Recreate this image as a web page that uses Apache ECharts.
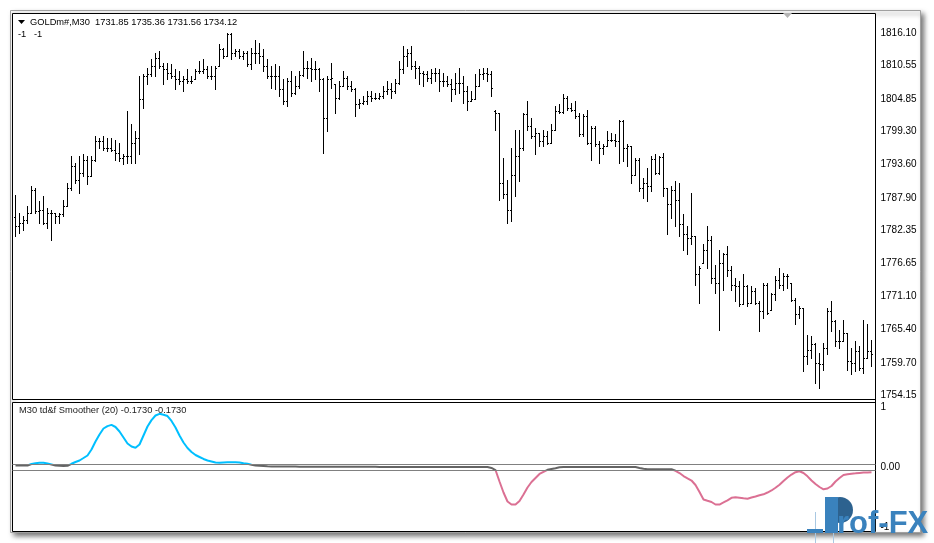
<!DOCTYPE html>
<html>
<head>
<meta charset="utf-8">
<script src="https://cdn.jsdelivr.net/npm/echarts@6/dist/echarts.min.js"></script>
<style>
html,body{margin:0;padding:0;background:#fff;}
#chart{width:934px;height:543px;}
</style>
</head>
<body>
<div id="chart"></div>
<script>
// ---- price bars (GOLDm#, M30) ----
const opens = [1784.50,1782.98,1783.55,1784.12,1785.26,1789.25,1785.55,1785.83,1783.55,1785.26,1785.26,1784.69,1784.98,1786.40,1789.54,1793.24,1790.96,1792.10,1794.38,1791.53,1794.38,1797.52,1797.52,1796.38,1796.38,1796.09,1795.52,1794.67,1794.95,1794.95,1797.23,1798.09,1804.64,1808.63,1808.92,1810.34,1811.77,1810.34,1809.77,1809.20,1808.63,1808.06,1807.78,1808.06,1807.78,1808.06,1809.49,1809.49,1809.77,1808.63,1808.63,1810.34,1813.19,1812.05,1815.76,1812.62,1812.91,1812.05,1812.62,1810.63,1812.62,1812.62,1812.05,1810.34,1808.63,1808.63,1808.63,1806.35,1804.36,1807.78,1805.78,1806.92,1808.90,1810.06,1810.06,1809.77,1809.77,1808.06,1801.51,1808.06,1807.21,1804.93,1806.92,1808.35,1806.92,1806.35,1803.79,1804.07,1804.36,1805.21,1804.93,1804.93,1805.21,1806.07,1806.35,1806.07,1807.49,1809.77,1812.05,1812.62,1810.34,1810.06,1809.20,1808.92,1808.35,1809.20,1809.20,1807.78,1807.78,1807.21,1806.35,1807.49,1807.49,1806.07,1804.36,1804.64,1806.92,1808.92,1809.20,1808.92,1802.65,1802.36,1790.39,1788.40,1785.83,1791.81,1794.95,1796.38,1802.08,1800.08,1798.37,1798.94,1797.52,1798.37,1797.23,1799.51,1802.65,1802.47,1804.93,1803.22,1802.93,1801.79,1798.66,1801.79,1797.23,1799.79,1796.95,1796.38,1796.66,1797.80,1797.80,1797.52,1800.94,1796.38,1796.66,1791.81,1794.38,1789.54,1790.39,1789.82,1794.49,1791.99,1794.84,1789.54,1786.69,1789.25,1787.54,1783.27,1781.56,1780.99,1781.27,1774.72,1776.71,1778.99,1780.70,1774.15,1773.29,1776.71,1778.14,1775.57,1773.00,1772.72,1769.59,1772.72,1769.87,1771.87,1769.87,1768.45,1773.00,1768.73,1771.30,1773.86,1773.00,1774.43,1773.29,1770.44,1767.88,1769.02,1760.75,1761.89,1762.75,1759.61,1759.33,1762.17,1768.45,1766.74,1763.32,1763.32,1764.74,1759.90,1759.61,1761.61,1758.76,1760.47,1761.61];
const highs = [1788.39,1785.26,1784.69,1786.40,1789.82,1789.54,1787.26,1788.11,1786.12,1785.83,1785.26,1785.26,1787.54,1790.39,1794.95,1793.81,1794.95,1795.24,1794.95,1794.95,1798.37,1798.09,1798.37,1798.09,1798.09,1797.80,1797.23,1795.24,1802.65,1800.37,1799.23,1808.63,1808.92,1810.06,1811.48,1812.62,1812.91,1810.91,1810.91,1810.63,1809.77,1809.49,1808.63,1809.77,1808.63,1809.77,1811.20,1811.48,1810.34,1810.34,1810.34,1814.05,1813.48,1816.04,1816.04,1813.19,1813.19,1812.91,1812.91,1813.48,1814.79,1814.33,1813.19,1811.48,1810.34,1810.63,1810.34,1808.06,1808.35,1809.49,1808.63,1809.49,1812.91,1811.20,1811.77,1811.20,1810.06,1808.35,1808.63,1810.91,1807.21,1807.78,1809.49,1808.63,1807.78,1806.64,1804.64,1805.21,1806.07,1806.07,1805.78,1805.78,1806.92,1807.78,1807.49,1808.06,1811.20,1813.76,1813.19,1813.87,1811.20,1810.34,1809.49,1809.49,1809.77,1810.06,1809.77,1809.20,1808.63,1808.06,1809.20,1810.06,1808.63,1806.92,1806.07,1808.92,1809.77,1810.06,1810.06,1809.49,1802.93,1802.36,1794.66,1790.96,1796.38,1799.51,1799.51,1802.36,1804.35,1801.51,1799.79,1798.94,1799.51,1799.23,1800.37,1803.50,1803.79,1805.50,1805.21,1804.07,1804.35,1802.36,1802.08,1802.93,1800.08,1800.08,1797.52,1796.95,1799.23,1798.94,1798.66,1801.22,1801.22,1796.95,1796.66,1794.66,1794.66,1791.24,1792.96,1794.95,1795.24,1794.95,1795.41,1789.54,1789.82,1790.68,1790.39,1784.98,1782.98,1788.68,1781.38,1776.14,1779.85,1782.98,1781.27,1776.42,1778.99,1778.42,1779.56,1776.14,1774.15,1773.58,1774.72,1773.00,1772.72,1772.43,1770.16,1773.29,1773.29,1771.58,1774.43,1775.86,1775.00,1774.72,1773.29,1770.73,1769.30,1769.02,1764.45,1764.17,1763.03,1761.32,1763.03,1769.02,1770.16,1767.02,1765.31,1767.02,1764.74,1762.17,1763.32,1762.46,1767.02,1766.17,1763.60];
const lows = [1781.27,1781.84,1782.41,1783.55,1785.26,1785.26,1783.55,1783.27,1782.70,1780.70,1783.55,1783.55,1784.69,1786.40,1789.25,1790.39,1788.68,1791.53,1790.11,1791.53,1794.10,1796.38,1796.09,1795.81,1795.81,1794.38,1794.10,1793.53,1793.81,1793.81,1793.81,1795.24,1803.22,1807.21,1808.63,1808.63,1810.06,1807.21,1808.06,1808.35,1806.35,1807.21,1806.07,1807.49,1807.49,1808.06,1809.20,1809.20,1808.35,1808.06,1806.35,1810.34,1811.77,1812.05,1811.48,1812.05,1811.77,1811.48,1810.34,1809.77,1810.91,1810.91,1809.49,1808.35,1806.64,1806.35,1805.21,1803.79,1803.50,1805.21,1805.50,1806.64,1808.63,1808.35,1807.78,1808.06,1806.07,1795.52,1799.23,1806.64,1802.36,1804.64,1806.92,1806.35,1806.07,1801.79,1803.22,1803.79,1803.79,1804.36,1804.64,1804.64,1804.93,1805.50,1804.93,1805.78,1807.21,1809.20,1810.34,1809.77,1808.35,1807.21,1806.92,1807.78,1807.49,1807.78,1806.07,1806.92,1806.92,1804.36,1805.50,1805.78,1804.07,1802.93,1804.36,1804.64,1806.92,1808.06,1807.78,1805.21,1799.51,1787.54,1787.83,1783.55,1783.84,1788.11,1790.67,1796.09,1799.51,1798.09,1795.24,1796.66,1796.66,1796.95,1797.23,1799.51,1802.36,1802.36,1802.93,1802.65,1801.51,1798.37,1798.37,1796.95,1794.38,1796.66,1793.81,1795.24,1796.66,1797.52,1796.66,1793.81,1794.10,1793.24,1790.39,1791.81,1788.97,1787.83,1787.26,1788.97,1791.82,1791.82,1788.11,1781.56,1784.40,1782.98,1781.27,1778.99,1778.14,1779.85,1773.00,1769.87,1776.71,1775.86,1773.29,1771.58,1765.31,1772.15,1774.43,1772.15,1770.16,1769.30,1769.59,1769.30,1769.87,1769.59,1765.02,1767.31,1767.88,1768.73,1770.44,1772.43,1772.15,1772.43,1770.16,1766.17,1767.31,1758.19,1759.33,1760.47,1756.19,1755.34,1758.47,1761.04,1765.02,1762.46,1762.17,1763.32,1758.47,1757.62,1758.19,1758.47,1757.90,1760.47,1759.04];
const closes = [1782.98,1783.55,1784.12,1785.26,1789.25,1785.55,1785.83,1783.55,1785.26,1785.26,1784.69,1784.98,1786.40,1789.54,1793.24,1790.96,1792.10,1794.38,1791.53,1794.38,1797.52,1797.52,1796.38,1796.38,1796.09,1795.52,1794.67,1794.95,1794.95,1797.23,1798.09,1804.64,1808.63,1808.92,1810.34,1811.77,1810.34,1809.77,1809.20,1808.63,1808.06,1807.78,1808.06,1807.78,1807.78,1809.49,1809.49,1809.77,1808.63,1808.63,1810.06,1813.19,1812.05,1815.76,1812.62,1812.91,1812.05,1812.62,1810.63,1812.62,1812.62,1812.05,1810.34,1808.63,1808.63,1808.63,1806.35,1804.36,1807.78,1805.78,1806.92,1808.90,1810.06,1810.06,1809.77,1809.77,1808.06,1801.51,1808.06,1808.35,1804.93,1806.92,1808.35,1806.92,1806.35,1803.79,1804.07,1804.36,1805.21,1804.93,1804.93,1805.21,1806.07,1806.35,1806.07,1807.49,1809.77,1812.05,1812.62,1810.34,1810.06,1809.20,1808.92,1808.35,1809.20,1809.20,1807.78,1807.78,1807.21,1806.35,1807.49,1807.49,1806.07,1804.36,1804.64,1806.92,1808.92,1809.20,1808.92,1806.64,1802.36,1790.39,1788.40,1785.83,1791.81,1794.95,1796.38,1802.08,1800.08,1798.37,1798.94,1797.52,1798.37,1797.23,1799.51,1802.65,1802.47,1804.93,1803.22,1802.93,1801.79,1798.66,1801.79,1797.23,1799.79,1796.95,1796.38,1796.66,1797.80,1797.80,1797.52,1800.94,1796.38,1796.66,1791.81,1794.38,1789.54,1790.39,1789.82,1794.49,1791.99,1794.84,1789.54,1786.69,1789.25,1787.54,1783.27,1781.56,1780.99,1781.27,1774.72,1775.86,1778.99,1780.70,1774.15,1773.29,1776.71,1778.14,1775.57,1773.00,1772.72,1769.59,1772.72,1769.87,1771.87,1769.87,1768.45,1773.00,1768.16,1771.30,1773.86,1773.00,1774.43,1774.43,1770.44,1767.88,1769.02,1760.75,1761.89,1762.75,1759.61,1759.33,1762.17,1768.45,1766.74,1763.32,1763.32,1764.74,1759.90,1759.61,1761.61,1758.76,1760.47,1761.61,1761.04];

// ---- td&f Smoother (20) indicator ----
const smoother = [0.033,0.033,0.033,0.033,0.058,0.072,0.078,0.078,0.067,0.050,0.033,0.028,0.025,0.028,0.062,0.092,0.117,0.158,0.200,0.300,0.433,0.550,0.650,0.690,0.710,0.675,0.600,0.500,0.400,0.350,0.330,0.383,0.533,0.683,0.790,0.867,0.895,0.880,0.858,0.775,0.667,0.533,0.417,0.325,0.258,0.208,0.175,0.142,0.117,0.100,0.083,0.078,0.083,0.087,0.088,0.088,0.083,0.070,0.062,0.045,0.033,0.028,0.025,0.020,0.017,0.017,0.017,0.017,0.017,0.017,0.017,0.013,0.013,0.013,0.013,0.013,0.013,0.013,0.013,0.013,0.013,0.013,0.013,0.013,0.013,0.013,0.013,0.013,0.013,0.013,0.013,0.008,0.008,0.008,0.008,0.008,0.008,0.008,0.008,0.008,0.008,0.008,0.008,0.008,0.008,0.008,0.008,0.008,0.008,0.008,0.008,0.008,0.008,0.008,0.008,0.008,0.008,0.008,0.008,-0.008,-0.042,-0.233,-0.417,-0.567,-0.617,-0.617,-0.558,-0.450,-0.333,-0.242,-0.175,-0.108,-0.072,-0.038,-0.025,-0.012,0.003,0.008,0.008,0.008,0.008,0.008,0.008,0.008,0.008,0.008,0.008,0.008,0.008,0.008,0.008,0.008,0.008,0.008,0.008,0.008,-0.008,-0.022,-0.030,-0.030,-0.030,-0.030,-0.030,-0.030,-0.030,-0.055,-0.092,-0.142,-0.180,-0.217,-0.292,-0.408,-0.533,-0.555,-0.575,-0.617,-0.617,-0.583,-0.547,-0.505,-0.497,-0.505,-0.513,-0.520,-0.500,-0.483,-0.463,-0.447,-0.417,-0.383,-0.338,-0.287,-0.225,-0.167,-0.117,-0.078,-0.063,-0.092,-0.147,-0.217,-0.275,-0.325,-0.363,-0.350,-0.308,-0.233,-0.175,-0.125,-0.112,-0.103,-0.097,-0.090,-0.085,-0.082,-0.078];
const levels = [0.05, -0.05];

// ---- axis tick labels ----
const priceTicks = [1816.10,1810.55,1804.85,1799.30,1793.60,1787.90,1782.35,1776.65,1771.10,1765.40,1759.70,1754.15];
const indLabels = [1, 0, -1];
const indTicks = [0];

const titleText = 'GOLDm#,M30  1731.85 1735.36 1731.56 1734.12';
const subText = '-1   -1';
const indText = 'M30 td&f Smoother (20) -0.1730 -0.1730';

const FONT = '"Liberation Sans", Arial, sans-serif';

const chart = echarts.init(document.getElementById('chart'), null, {renderer: 'canvas'});

function renderBar(params, api) {
  const i = api.value(0);
  const o = api.coord([i, api.value(1)]);
  const h = api.coord([i, api.value(2)]);
  const l = api.coord([i, api.value(3)]);
  const c = api.coord([i, api.value(4)]);
  const px = Math.round(h[0] - 0.5);
  const top = Math.round(h[1] - 0.5);
  const bot = Math.round(l[1] - 0.5);
  const st = {fill: '#000'};
  return {
    type: 'group',
    children: [
      {type: 'rect', shape: {x: px, y: top, width: 1, height: Math.max(1, bot - top + 1)}, style: st},
      {type: 'rect', shape: {x: px - 1, y: Math.round(o[1] - 0.5), width: 1, height: 1}, style: st},
      {type: 'rect', shape: {x: px + 1, y: Math.round(c[1] - 0.5), width: 1, height: 1}, style: st}
    ]
  };
}

const barData = opens.map((o, i) => [i, opens[i], highs[i], lows[i], closes[i]]);
const indData = smoother.map((v, i) => [i, v]);

const option = {
  animation: false,
  backgroundColor: '#ffffff',
  grid: [
    {left: 12.5, top: 13.5, width: 863, height: 386, show: true, borderColor: '#000', borderWidth: 1, backgroundColor: '#fff', z: 1},
    {left: 12.5, top: 402.5, width: 863, height: 129, show: true, borderColor: '#000', borderWidth: 1, backgroundColor: '#fff', z: 1}
  ],
  xAxis: [
    {type: 'value', gridIndex: 0, min: -0.75, max: 215, show: false},
    {type: 'value', gridIndex: 1, min: -0.75, max: 215, show: false}
  ],
  yAxis: [
    {
      type: 'value', gridIndex: 0, position: 'right', min: 1753.43, max: 1819.43,
      splitLine: {show: false}, axisLine: {show: false},
      axisTick: {show: true, customValues: priceTicks, length: 3, lineStyle: {color: '#000'}},
      axisLabel: {customValues: priceTicks, formatter: v => v.toFixed(2), margin: 5, color: '#000', fontSize: 10, fontFamily: FONT}
    },
    {
      type: 'value', gridIndex: 1, position: 'right', min: -1.0667, max: 1.0833,
      splitLine: {show: false}, axisLine: {show: false},
      axisTick: {show: true, customValues: indTicks, length: 3, lineStyle: {color: '#000'}},
      axisLabel: {customValues: indLabels, formatter: v => (v === 0 ? '0.00' : String(v)), margin: 5, color: '#000', fontSize: 10, fontFamily: FONT}
    }
  ],
  visualMap: {
    show: false, type: 'piecewise', seriesIndex: 2, dimension: 1,
    pieces: [
      {lt: -0.05, color: '#DB7093'},
      {gte: -0.05, lte: 0.05, color: '#646464'},
      {gt: 0.05, color: '#00BFFF'}
    ]
  },
  series: [
    {
      type: 'custom', xAxisIndex: 0, yAxisIndex: 0, renderItem: renderBar,
      data: barData, encode: {x: 0, y: [1, 2, 3, 4]}, silent: true, clip: true
    },
    {
      type: 'line', xAxisIndex: 1, yAxisIndex: 1, data: [], silent: true,
      markLine: {
        silent: true, symbol: 'none', label: {show: false},
        lineStyle: {color: '#808080', width: 1, type: 'solid'},
        data: levels.map(v => ({yAxis: v}))
      }
    },
    {
      type: 'line', xAxisIndex: 1, yAxisIndex: 1, data: indData, showSymbol: false,
      smooth: false, lineStyle: {width: 2}, silent: true, z: 3
    }
  ],
  graphic: [
    {type: 'rect', z: -10, shape: {x: 10.5, y: 10.5, width: 910, height: 522},
      style: {fill: '#fff', stroke: '#a0a0a0', lineWidth: 1, shadowBlur: 5, shadowOffsetX: 3, shadowOffsetY: 3, shadowColor: 'rgba(0,0,0,0.55)'}},
    {type: 'line', z: 50, shape: {x1: 875.5, y1: 399, x2: 875.5, y2: 403}, style: {stroke: '#000', lineWidth: 1}},
    {type: 'polygon', z: 50, shape: {points: [[18, 20], [25, 20], [21.5, 24]]}, style: {fill: '#000'}},
    {type: 'polygon', z: 50, shape: {points: [[783, 13], [792, 13], [787.5, 18]]}, style: {fill: '#b4b4b4'}},
    {type: 'text', z: 50, x: 30, y: 22.5, style: {text: titleText, font: '9.3px ' + FONT, fill: '#000', verticalAlign: 'middle'}},
    {type: 'text', z: 50, x: 18, y: 34.5, style: {text: subText, font: '9.3px ' + FONT, fill: '#000', verticalAlign: 'middle'}},
    {type: 'text', z: 50, x: 19, y: 410, style: {text: indText, font: '9.3px ' + FONT, fill: '#222', verticalAlign: 'middle'}},
    // Prof-FX watermark
    {type: 'rect', z: 60, shape: {x: 815, y: 512, width: 1, height: 31}, style: {fill: '#a9c8e2'}},
    {type: 'rect', z: 60, shape: {x: 833, y: 512, width: 1, height: 31}, style: {fill: '#a9c8e2'}},
    {type: 'rect', z: 61, shape: {x: 807, y: 529, width: 16, height: 4}, style: {fill: '#3a82bd'}},
    {type: 'circle', z: 60, shape: {cx: 840, cy: 510, r: 13}, style: {fill: '#2d628f'}},
    {type: 'rect', z: 61, shape: {x: 825, y: 497, width: 13, height: 36}, style: {fill: '#3a82bd'}},
    {type: 'text', z: 62, x: 837, y: 524, style: {text: 'rof-FX', font: 'bold 31px ' + FONT, fill: '#3a82bd', verticalAlign: 'middle'}}
  ]
};
chart.setOption(option);
</script>
</body>
</html>
